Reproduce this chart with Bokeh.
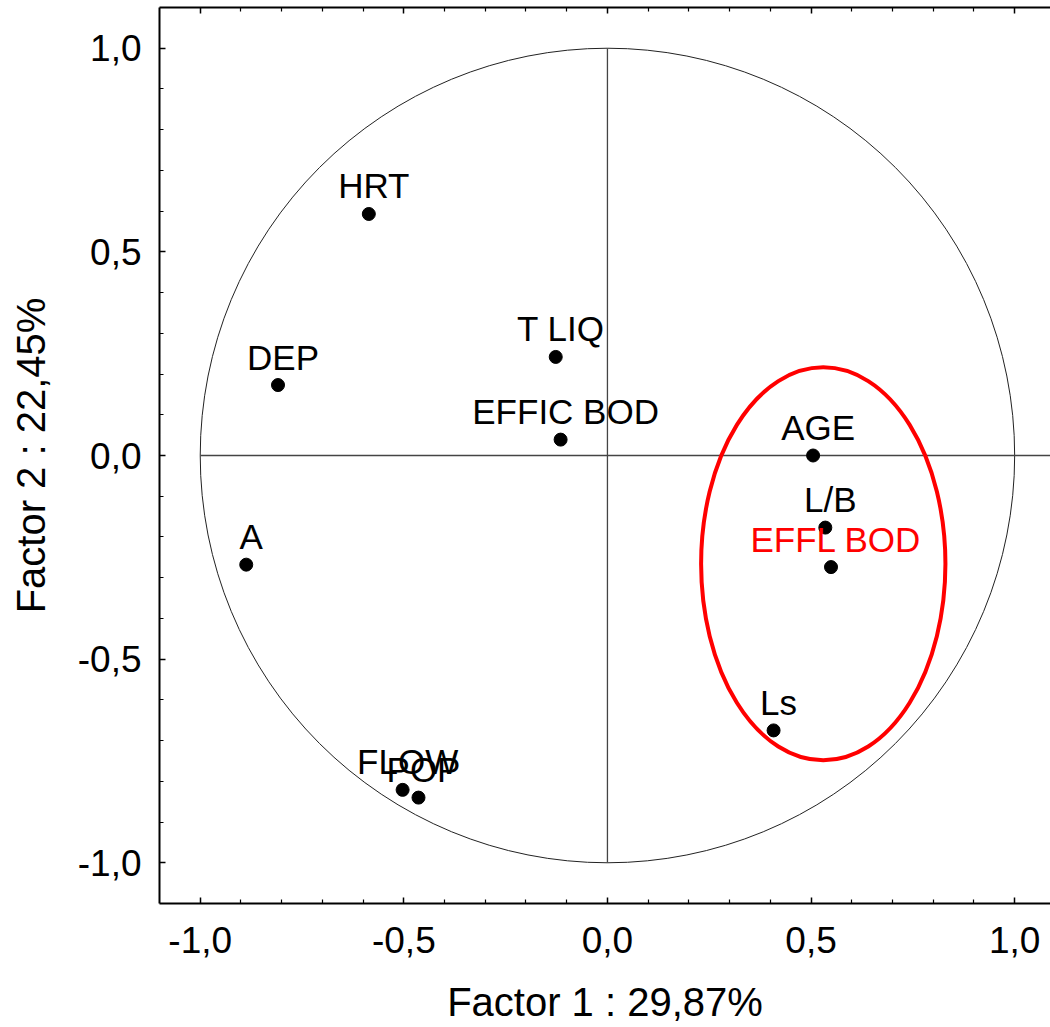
from bokeh.plotting import figure
from bokeh.models import Range1d, FixedTicker, LinearAxis, ColumnDataSource, CustomJSTickFormatter
from bokeh.core.properties import value
from bokeh.embed import file_html
from bokeh.resources import INLINE

# ---- data ----
names = ["HRT", "DEP", "T LIQ", "EFFIC BOD", "A", "FLOW", "POP", "AGE", "L/B", "EFFL BOD", "Ls"]
factor1 = [-0.586, -0.809, -0.127, -0.115, -0.887, -0.503, -0.464, 0.505, 0.535, 0.549, 0.408]
factor2 = [0.593, 0.173, 0.242, 0.039, -0.268, -0.821, -0.840, 0.000, -0.177, -0.274, -0.675]
label_colors = ["black"] * 9 + ["#ff0000", "black"]

major_ticks = [-1.0, -0.5, 0.0, 0.5, 1.0]
minor_ticks = [-0.9, -0.8, -0.7, -0.6, -0.4, -0.3, -0.2, -0.1,
               0.1, 0.2, 0.3, 0.4, 0.6, 0.7, 0.8, 0.9]

x_title = "Factor 1 : 29,87%"
y_title = "Factor 2 : 22,45%"

# highlighted group (red ellipse)
group_center = (0.530, -0.266)
group_size = (0.600, 0.965)

X_END = 1.088
FONT = "Liberation Sans"

p = figure(width=1050, height=1027,
           x_range=Range1d(-1.1, X_END), y_range=Range1d(-1.1, 1.1),
           output_backend="svg", toolbar_location=None,
           min_border_left=159, min_border_right=0, min_border_top=7, min_border_bottom=124)
p.background_fill_color = "white"
p.border_fill_color = "white"
p.outline_line_color = None
p.xgrid.visible = False
p.ygrid.visible = False

fmt = CustomJSTickFormatter(code="return tick.toFixed(1).replace('.', ',');")


def style_axis(ax, font_size, standoff):
    ax.ticker = FixedTicker(ticks=major_ticks, minor_ticks=minor_ticks)
    ax.formatter = fmt
    ax.axis_line_color = "black"
    ax.axis_line_width = 2
    ax.major_tick_line_color = "black"
    ax.major_tick_line_width = 1.5
    ax.minor_tick_line_color = "black"
    ax.minor_tick_line_width = 1.2
    ax.major_tick_in = 6
    ax.major_tick_out = 0
    ax.minor_tick_in = 4
    ax.minor_tick_out = 0
    ax.major_label_text_font = FONT
    ax.major_label_text_font_size = font_size
    ax.major_label_text_color = "black"
    ax.major_label_standoff = standoff


xa = p.xaxis[0]
ya = p.yaxis[0]
style_axis(xa, "37px", 23)
style_axis(ya, "37px", 18)
xa.axis_label = x_title
ya.axis_label = y_title
for ax in (xa, ya):
    ax.axis_label_text_font = FONT
    ax.axis_label_text_font_size = "40px"
    ax.axis_label_text_font_style = "normal"
    ax.axis_label_text_color = "black"
xa.axis_label_standoff = 24
ya.axis_label_standoff = 22

top = LinearAxis()
style_axis(top, "0px", 0)
top.major_label_text_alpha = 0
p.add_layout(top, "above")

# unit circle and cross lines
p.ellipse(x=[0], y=[0], width=[2], height=[2], fill_color=None,
          line_color="#222222", line_width=1)
p.segment(x0=[-1.0, 0.0], y0=[0.0, -1.0], x1=[X_END, 0.0], y1=[0.0, 1.0],
          line_color="#444444", line_width=1.3)

# highlighted group
p.ellipse(x=[group_center[0]], y=[group_center[1]], width=[group_size[0]], height=[group_size[1]],
          fill_color=None, line_color="#ff0000", line_width=4)

src = ColumnDataSource(dict(x=factor1, y=factor2, name=names, color=label_colors))
p.scatter(x="x", y="y", source=src, size=13, fill_color="black", line_color="black")
p.text(x="x", y="y", text="name", source=src, text_color="color",
       text_font=value(FONT), text_font_size="35px",
       text_align="center", text_baseline="middle",
       x_offset=5, y_offset=-28)

open("out.html", "w").write(file_html(p, INLINE))
